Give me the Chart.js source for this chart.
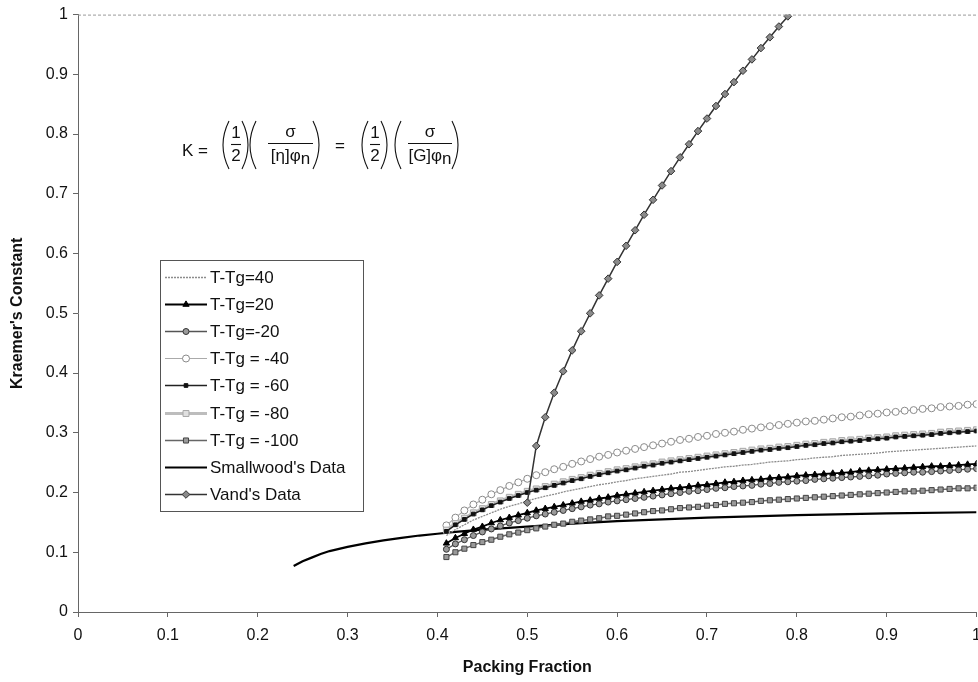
<!DOCTYPE html>
<html>
<head>
<meta charset="utf-8">
<script src="https://cdn.jsdelivr.net/npm/chart.js@4/dist/chart.umd.min.js"></script>
<style>
html,body{margin:0;padding:0;background:#fff;overflow:hidden;}
#wrap{position:relative;width:990px;height:682px;}
</style>
</head>
<body>
<div id="wrap"><canvas id="c" width="990" height="682"></canvas></div>
<script>
// ---- data ----
const xTicks = [0, 0.1, 0.2, 0.3, 0.4, 0.5, 0.6, 0.7, 0.8, 0.9, 1];
const yTicks = [0, 0.1, 0.2, 0.3, 0.4, 0.5, 0.6, 0.7, 0.8, 0.9, 1];

const seriesNames = ["T-Tg=40", "T-Tg=20", "T-Tg=-20", "T-Tg = -40", "T-Tg = -60", "T-Tg = -80", "T-Tg = -100", "Smallwood's Data", "Vand's Data"];

const phiModel = [0.41,0.42,0.43,0.44,0.45,0.46,0.47,0.48,0.49,0.50,0.51,0.52,0.53,0.54,0.55,0.56,0.57,0.58,0.59,0.60,0.61,0.62,0.63,0.64,0.65,0.66,0.67,0.68,0.69,0.70,0.71,0.72,0.73,0.74,0.75,0.76,0.77,0.78,0.79,0.80,0.81,0.82,0.83,0.84,0.85,0.86,0.87,0.88,0.89,0.90,0.91,0.92,0.93,0.94,0.95,0.96,0.97,0.98,0.99,1.00];

const kTTgPlus40 = [0.128,0.138,0.146,0.154,0.160,0.166,0.172,0.177,0.181,0.186,0.190,0.194,0.197,0.201,0.204,0.207,0.210,0.213,0.215,0.218,0.220,0.223,0.225,0.227,0.229,0.231,0.234,0.235,0.237,0.239,0.241,0.243,0.244,0.246,0.247,0.249,0.251,0.252,0.253,0.255,0.256,0.258,0.259,0.260,0.262,0.263,0.264,0.265,0.266,0.268,0.269,0.270,0.271,0.272,0.273,0.274,0.275,0.276,0.277,0.278];
const kTTgPlus20 = [0.115,0.124,0.131,0.138,0.143,0.149,0.154,0.158,0.162,0.166,0.170,0.173,0.176,0.179,0.182,0.185,0.187,0.190,0.192,0.195,0.197,0.199,0.201,0.203,0.205,0.207,0.208,0.210,0.212,0.213,0.215,0.217,0.218,0.220,0.221,0.222,0.224,0.225,0.226,0.228,0.229,0.230,0.231,0.232,0.233,0.234,0.236,0.237,0.238,0.239,0.240,0.241,0.242,0.243,0.244,0.244,0.245,0.246,0.247,0.248];
const kTTgMinus20 = [0.105,0.114,0.121,0.128,0.134,0.139,0.144,0.149,0.153,0.157,0.161,0.164,0.167,0.170,0.173,0.176,0.179,0.181,0.184,0.186,0.188,0.190,0.192,0.194,0.196,0.198,0.200,0.202,0.203,0.205,0.207,0.208,0.210,0.211,0.212,0.214,0.215,0.217,0.218,0.219,0.220,0.222,0.223,0.224,0.225,0.226,0.227,0.228,0.229,0.231,0.232,0.233,0.234,0.234,0.235,0.236,0.237,0.238,0.239,0.240];
const kTTgMinus40 = [0.145,0.158,0.170,0.180,0.188,0.197,0.204,0.211,0.217,0.223,0.229,0.234,0.239,0.243,0.248,0.252,0.256,0.260,0.263,0.267,0.270,0.273,0.276,0.279,0.282,0.285,0.288,0.290,0.293,0.295,0.298,0.300,0.302,0.305,0.307,0.309,0.311,0.313,0.315,0.317,0.319,0.320,0.322,0.324,0.326,0.327,0.329,0.331,0.332,0.334,0.335,0.337,0.338,0.340,0.341,0.343,0.344,0.345,0.347,0.348];
const kTTgMinus60 = [0.135,0.146,0.155,0.164,0.171,0.178,0.184,0.190,0.195,0.200,0.204,0.208,0.212,0.216,0.220,0.223,0.227,0.230,0.233,0.236,0.238,0.241,0.244,0.246,0.249,0.251,0.253,0.255,0.257,0.259,0.261,0.263,0.265,0.267,0.269,0.271,0.272,0.274,0.275,0.277,0.279,0.280,0.282,0.283,0.285,0.286,0.287,0.289,0.290,0.291,0.293,0.294,0.295,0.296,0.297,0.299,0.300,0.301,0.302,0.303];
const kTTgMinus80 = [0.137,0.148,0.157,0.166,0.173,0.180,0.186,0.192,0.197,0.202,0.206,0.210,0.214,0.218,0.222,0.225,0.229,0.232,0.235,0.238,0.240,0.243,0.246,0.248,0.251,0.253,0.255,0.257,0.259,0.261,0.263,0.265,0.267,0.269,0.271,0.273,0.274,0.276,0.277,0.279,0.281,0.282,0.284,0.285,0.287,0.288,0.289,0.291,0.292,0.293,0.295,0.296,0.297,0.298,0.299,0.301,0.302,0.303,0.304,0.305];
const kTTgMinus100 = [0.092,0.100,0.106,0.112,0.117,0.121,0.126,0.130,0.133,0.137,0.140,0.143,0.146,0.148,0.151,0.153,0.155,0.157,0.160,0.161,0.163,0.165,0.167,0.169,0.170,0.172,0.174,0.175,0.176,0.178,0.179,0.181,0.182,0.183,0.184,0.186,0.187,0.188,0.189,0.190,0.191,0.192,0.193,0.194,0.195,0.196,0.197,0.198,0.199,0.200,0.201,0.202,0.202,0.203,0.204,0.205,0.206,0.207,0.207,0.208];

const phiSmallwood = [0.24,0.25,0.26,0.27,0.28,0.30,0.32,0.34,0.36,0.38,0.40,0.42,0.45,0.50,0.55,0.60,0.65,0.70,0.80,0.90,1.00];
const kSmallwood   = [0.077,0.085,0.091,0.097,0.102,0.109,0.115,0.120,0.124,0.128,0.131,0.134,0.138,0.143,0.148,0.152,0.155,0.158,0.162,0.165,0.167];

const phiVand = [0.50,0.51,0.52,0.53,0.54,0.55,0.56,0.57,0.58,0.59,0.60,0.61,0.62,0.63,0.64,0.65,0.66,0.67,0.68,0.69,0.70,0.71,0.72,0.73,0.74,0.75,0.76,0.77,0.78,0.79,0.80];
const kVand   = [0.183,0.278,0.326,0.367,0.403,0.438,0.470,0.500,0.530,0.558,0.586,0.613,0.639,0.665,0.690,0.714,0.738,0.761,0.783,0.805,0.826,0.847,0.867,0.887,0.906,0.925,0.944,0.962,0.980,0.997,1.014];

// ---- build ----
const pts = (xs, ys) => xs.map((x, i) => ({x: x, y: ys[i]}));

const styles = [
  {data: pts(phiModel, kTTgPlus40),  borderColor:'#8c8c8c', borderWidth:1.3, borderDash:[2,1], pointStyle:'circle', pointRadius:0, bg:'#8c8c8c', pb:'#8c8c8c', order:7},
  {data: pts(phiModel, kTTgPlus20),  borderColor:'#000', borderWidth:1.8, pointStyle:'triangle', pointRadius:3.6, bg:'#000', pb:'#000', order:4},
  {data: pts(phiModel, kTTgMinus20), borderColor:'#555', borderWidth:1.3, pointStyle:'circle', pointRadius:3, bg:'#9a9a9a', pb:'#333', order:5},
  {data: pts(phiModel, kTTgMinus40), borderColor:'#aaa', borderWidth:1.2, pointStyle:'circle', pointRadius:3.5, bg:'#fff', pb:'#8a8a8a', order:3},
  {data: pts(phiModel, kTTgMinus60), borderColor:'#222', borderWidth:1.5, pointStyle:'rect', pointRadius:2.6, bg:'#111', pb:'#111', order:1},
  {data: pts(phiModel, kTTgMinus80), borderColor:'#bdbdbd', borderWidth:3, pointStyle:'rect', pointRadius:4.2, bg:'#e0e0e0', pb:'#a8a8a8', order:2},
  {data: pts(phiModel, kTTgMinus100),borderColor:'#666', borderWidth:1.5, pointStyle:'rect', pointRadius:3.6, bg:'#9a9a9a', pb:'#444', order:6},
  {data: pts(phiSmallwood, kSmallwood), borderColor:'#000', borderWidth:2.2, pointStyle:'circle', pointRadius:0, bg:'#000', pb:'#000', order:8},
  {data: pts(phiVand, kVand), borderColor:'#333', borderWidth:1.5, pointStyle:'rectRot', pointRadius:3.8, bg:'#8a8a8a', pb:'#333', order:0}
];

const datasets = styles.map((s, i) => ({
  label: seriesNames[i],
  data: s.data,
  showLine: true,
  fill: false,
  tension: 0,
  borderColor: s.borderColor,
  borderWidth: s.borderWidth,
  borderDash: s.borderDash || [],
  pointStyle: s.pointStyle,
  pointRadius: s.pointRadius,
  pointHoverRadius: s.pointRadius,
  pointBackgroundColor: s.bg,
  pointBorderColor: s.pb,
  pointBorderWidth: 1,
  order: s.order
}));

const FONT = '"Liberation Sans", Arial, Helvetica, sans-serif';
const fmt = v => String(+(+v).toFixed(1));

// legend + formula + top border
const extras = {
  id: 'extras',
  afterDraw(chart) {
    const ctx = chart.ctx;
    const ca = chart.chartArea;
    ctx.save();
    // top border (dashed)
    ctx.strokeStyle = '#9a9a9a';
    ctx.lineWidth = 1;
    ctx.setLineDash([3, 2]);
    ctx.beginPath();
    ctx.moveTo(ca.left, ca.top + 0.5);
    ctx.lineTo(ca.right, ca.top + 0.5);
    ctx.stroke();
    ctx.setLineDash([]);

    // legend box
    const lx = 160, ly = 260, lw = 203, lh = 251;
    ctx.fillStyle = '#fff';
    ctx.fillRect(lx, ly, lw, lh);
    ctx.strokeStyle = '#555';
    ctx.lineWidth = 1;
    ctx.strokeRect(lx + 0.5, ly + 0.5, lw, lh);
    const rowY0 = 277, rowDY = 27.1;
    const H = Chart.helpers;
    styles.forEach((s, i) => {
      const y = Math.round(rowY0 + i * rowDY) + 0.5;
      ctx.save();
      ctx.strokeStyle = s.borderColor;
      ctx.lineWidth = s.borderWidth;
      ctx.setLineDash(s.borderDash || []);
      ctx.beginPath();
      ctx.moveTo(165, y);
      ctx.lineTo(207, y);
      ctx.stroke();
      ctx.setLineDash([]);
      if (s.pointRadius > 0) {
        ctx.fillStyle = s.bg;
        ctx.strokeStyle = s.pb;
        ctx.lineWidth = 1;
        if (H && H.drawPoint) {
          H.drawPoint(ctx, {pointStyle: s.pointStyle, radius: s.pointRadius, rotation: 0, borderWidth: 1}, 186, y);
        } else {
          ctx.beginPath(); ctx.arc(186, y, s.pointRadius, 0, Math.PI * 2); ctx.fill(); ctx.stroke();
        }
      }
      ctx.restore();
      ctx.fillStyle = '#111';
      ctx.font = '17px ' + FONT;
      ctx.textAlign = 'left';
      ctx.textBaseline = 'middle';
      ctx.fillText(seriesNames[i], 210, y + 0.5);
    });

    // formula
    ctx.fillStyle = '#111';
    ctx.strokeStyle = '#111';
    ctx.lineWidth = 1.1;
    ctx.font = '17px ' + FONT;
    ctx.textBaseline = 'middle';
    ctx.textAlign = 'left';
    ctx.fillText('K =', 182, 151);
    const paren = (x, open) => {
      ctx.beginPath();
      if (open) { ctx.moveTo(x + 5, 121); ctx.quadraticCurveTo(x - 7, 145, x + 5, 169); }
      else { ctx.moveTo(x - 5, 121); ctx.quadraticCurveTo(x + 7, 145, x - 5, 169); }
      ctx.stroke();
    };
    const half = (cx) => {
      ctx.textAlign = 'center';
      ctx.fillText('1', cx, 133);
      ctx.fillText('2', cx, 156);
      ctx.beginPath(); ctx.moveTo(cx - 5, 144.5); ctx.lineTo(cx + 5, 144.5); ctx.stroke();
    };
    const frac = (x0, x1, inner) => {
      const cx = (x0 + x1) / 2;
      ctx.textAlign = 'center';
      ctx.fillText('\u03C3', cx, 132);
      ctx.beginPath(); ctx.moveTo(x0, 143.5); ctx.lineTo(x1, 143.5); ctx.stroke();
      ctx.textAlign = 'left';
      const w = ctx.measureText(inner).width;
      const nw = ctx.measureText('n').width;
      const sx = cx - (w + nw) / 2;
      ctx.fillText(inner, sx, 156);
      ctx.fillText('n', sx + w, 159);
    };
    paren(224, true); half(236); paren(247, false);
    paren(251, true); frac(268, 313, '[\u03B7]\u03C6'); paren(318, false);
    ctx.textAlign = 'center';
    ctx.fillText('=', 340, 146);
    paren(363, true); half(375); paren(386, false);
    paren(396, true); frac(408, 452, '[G]\u03C6'); paren(457, false);
    ctx.restore();
  }
};

new Chart(document.getElementById('c'), {
  type: 'scatter',
  data: {datasets},
  options: {
    responsive: false,
    animation: false,
    devicePixelRatio: 1,
    layout: {padding: {top: 11, right: 7, bottom: 0, left: 0}},
    plugins: {legend: {display: false}, tooltip: {enabled: false}},
    scales: {
      x: {
        type: 'linear', min: 0, max: 1,
        afterFit: s => { s.height = 70; },
        afterBuildTicks: s => { s.ticks = xTicks.map(v => ({value: v})); },
        ticks: {callback: fmt, color: '#111', font: {family: FONT, size: 16}, padding: 9, maxRotation: 0, autoSkip: false},
        grid: {drawOnChartArea: false, drawTicks: true, tickLength: 5, color: '#666'},
        border: {display: true, color: '#666', width: 1},
        title: {display: true, text: 'Packing Fraction', color: '#111', font: {family: FONT, size: 16, weight: 'bold'}, padding: {top: 0, bottom: 5}}
      },
      y: {
        type: 'linear', min: 0, max: 1,
        afterFit: s => { s.width = 78; },
        afterBuildTicks: s => { s.ticks = yTicks.map(v => ({value: v})); },
        ticks: {callback: fmt, color: '#111', font: {family: FONT, size: 16}, padding: 5, autoSkip: false},
        grid: {drawOnChartArea: false, drawTicks: true, tickLength: 5, color: '#666'},
        border: {display: true, color: '#666', width: 1},
        title: {display: true, text: "Kraemer's Constant", color: '#111', font: {family: FONT, size: 16, weight: 'bold'}, padding: {top: 8, bottom: 0}}
      }
    }
  },
  plugins: [extras]
});
</script>
</body>
</html>
